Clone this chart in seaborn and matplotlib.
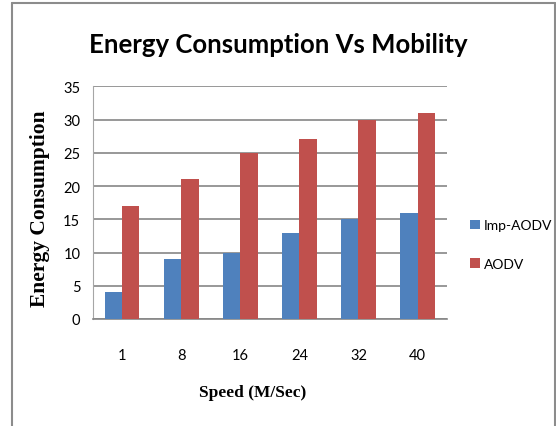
import matplotlib.pyplot as plt
import pandas as pd
import seaborn as sns
from matplotlib.lines import Line2D

speeds = ['1', '8', '16', '24', '32', '40']
imp_aodv = [4, 9, 10, 13, 15, 16]
aodv = [17, 21, 25, 27, 30, 31]
series_names = ['Imp-AODV', 'AODV']
colors = ['#4F81BD', '#C0504D']

df = pd.DataFrame({
    'speed': speeds * 2,
    'energy': imp_aodv + aodv,
    'protocol': [series_names[0]] * len(speeds) + [series_names[1]] * len(speeds),
})

sns.set_style('white')
plt.rcParams['text.color'] = 'black'
plt.rcParams['xtick.color'] = 'black'
plt.rcParams['ytick.color'] = 'black'

fig = plt.figure(figsize=(5.56, 4.27), dpi=100)
ax = fig.add_axes([0.167, 0.2506, 0.637, 0.545])

sns.barplot(data=df, x='speed', y='energy', hue='protocol', order=speeds,
            hue_order=series_names, palette=colors, width=0.58, gap=0,
            saturation=1, linewidth=0, ax=ax, zorder=3)

ax.set_ylim(0, 35)
ax.set_yticks(range(0, 36, 5))
ax.yaxis.grid(True, color='#868686', linewidth=1.2, zorder=0)
ax.set_axisbelow(True)
for s in ['top', 'right']:
    ax.spines[s].set_visible(False)
ax.spines['left'].set_color('#A6A6A6')
ax.spines['bottom'].set_color('#868686')
ax.spines['bottom'].set_linewidth(1.2)
ax.tick_params(axis='both', length=0, labelsize=10.5)
ax.tick_params(axis='y', pad=9)
ax.tick_params(axis='x', pad=21)
for lab in ax.get_xticklabels() + ax.get_yticklabels():
    lab.set_family('Lato')
ax.set_xlabel('')
ax.set_ylabel('')

fig.text(0.5, 0.895, 'Energy Consumption Vs Mobility', ha='center', va='center',
         fontsize=18.5, fontweight='bold', family='Lato')
fig.text(0.072, 0.512, 'Energy Consumption', rotation=90, ha='center', va='center',
         fontsize=15.5, fontweight='bold', family='Liberation Serif')
fig.text(0.455, 0.079, 'Speed (M/Sec)', ha='center', va='center',
         fontsize=12.5, fontweight='bold', family='Liberation Serif')

handles, labels = ax.get_legend_handles_labels()
ax.legend(handles, labels, loc='center left', bbox_to_anchor=(1.03, 0.32),
          frameon=False, handlelength=0.7, handleheight=0.7, handletextpad=0.3,
          labelspacing=1.9, prop={'family': 'Lato', 'size': 10})

fig.add_artist(Line2D([0.022, 0.022], [0, 0.99], color='#8C8C8C', linewidth=1.5))
fig.add_artist(Line2D([0.022, 0.998], [0.99, 0.99], color='#8C8C8C', linewidth=1.5))
fig.add_artist(Line2D([0.998, 0.998], [0, 0.99], color='#8C8C8C', linewidth=1.5))

fig.savefig('out.png', dpi=100)
